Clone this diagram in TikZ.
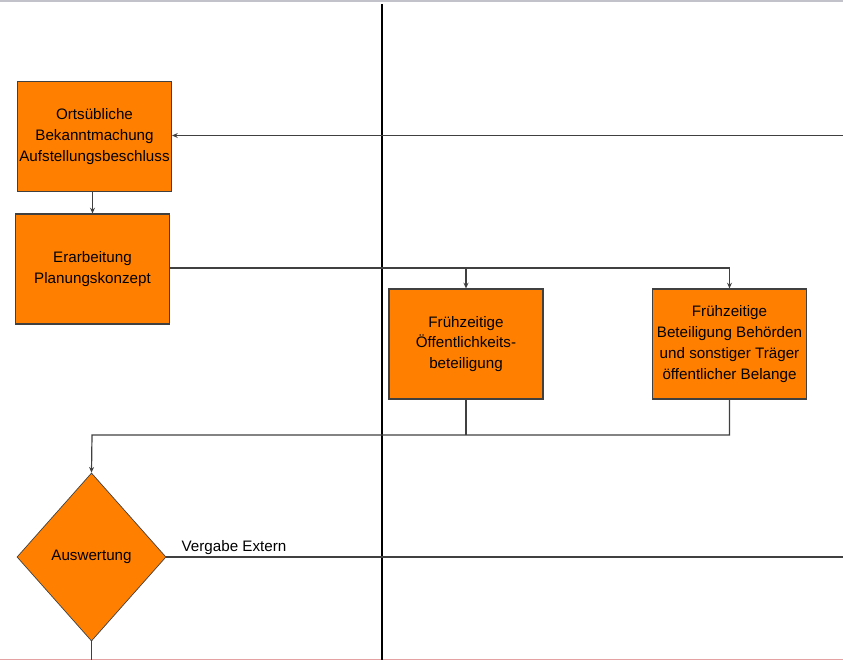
\documentclass[tikz,border=0pt]{standalone}
\usepackage{fontspec}
\setmainfont{Liberation Sans}
\usetikzlibrary{arrows.meta,shapes.geometric,calc}
\definecolor{boxorange}{HTML}{FF8000}
\definecolor{linie}{HTML}{404040}
\tikzset{
	kasten/.style={draw=linie,fill=boxorange,line width=0.8pt,inner sep=0pt,align=center,
		minimum width=3.85cm,minimum height=2.75cm,font=\fontsize{10.8}{14.8}\selectfont},
	raute/.style={diamond,draw=linie,fill=boxorange,line width=0.5pt,inner sep=0pt,
		minimum width=3.725cm,minimum height=4.2cm,font=\fontsize{10.8}{14.8}\selectfont},
	pfeil/.style={draw=linie,line width=0.85pt,-{Stealth[length=4pt,width=3.5pt]}},
	verbindung/.style={draw=linie,line width=0.85pt}
}
\begin{document}
\begin{tikzpicture}[x=0.025cm,y=-0.025cm]
	\useasboundingbox (0,0) rectangle (843,660);
	% Rand oben und unten
	\fill[black!20!blue!5!white!80!black] (0,0) rectangle (843,2);
	\fill[red!30!white!90!black] (0,659) rectangle (843,660);
	% Trennlinie
	\draw[line width=0.75pt] (382,4)--(382,660);
	% Knoten
	\node[kasten] (ortsueblich) at (94.5,136.5) {Ortsübliche\\Bekanntmachung\\Aufstellungsbeschluss};
	\node[kasten] (erarbeitung) at (92.5,269) {Erarbeitung\\Planungskonzept};
	\node[kasten] (oeffentlich) at (466,344) {Frühzeitige\\Öffentlichkeits-\\beteiligung};
	\node[kasten] (behoerden) at (729.5,344) {Frühzeitige\\Beteiligung Behörden\\und sonstiger Träger\\öffentlicher Belange};
	\node[raute] (auswertung) at (91.5,557) {Auswertung};
	\coordinate (rechtsoben) at (843,135.5);
	\coordinate (rechtsunten) at (843,557);
	\coordinate (sammel) at (92,435);
	\coordinate (unten) at (91.5,660);
	% Verbindungen
	\draw[pfeil] (rechtsoben)--(ortsueblich.east |- rechtsoben);
	\draw[pfeil] (erarbeitung.north |- ortsueblich.south)--(erarbeitung.north);
	\draw[pfeil] (erarbeitung.east |- 0,268)-|(behoerden.north);
	\draw[pfeil] (oeffentlich.north |- 0,268)--(oeffentlich.north);
	\draw[verbindung] (oeffentlich.south)--(oeffentlich.south |- sammel);
	\draw[pfeil] (behoerden.south)|-(sammel)--(auswertung.north);
	\draw[verbindung] (auswertung.east)--(rechtsunten);
	\draw[verbindung] (auswertung.south)--(unten);
	\node[anchor=base west,inner sep=0pt,font=\fontsize{10.8}{13}\selectfont] (vergabe) at ($(auswertung.east)+(15,-6)$) {Vergabe Extern};
\end{tikzpicture}
\end{document}
